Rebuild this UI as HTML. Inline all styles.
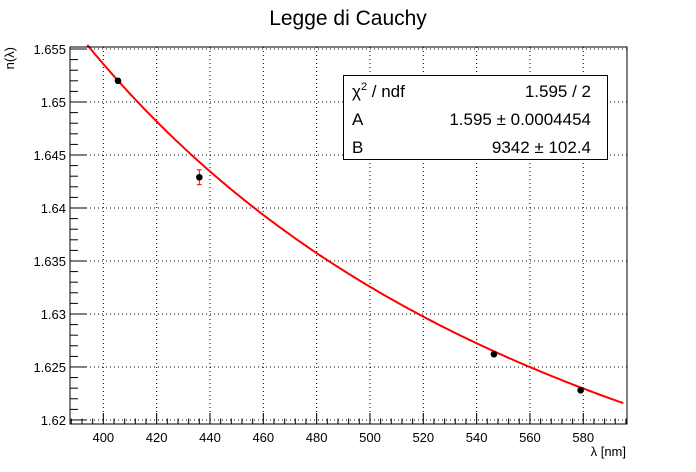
<!DOCTYPE html>
<html><head><meta charset="utf-8"><style>
body{margin:0;background:#fff;}
svg{display:block;font-family:"Liberation Sans",sans-serif;}
</style></head><body>
<svg id="chart" width="696" height="472" viewBox="0 0 696 472">
<rect width="696" height="472" fill="#fff"/>
<text x="348" y="25" font-size="21" text-anchor="middle">Legge di Cauchy</text>
<g id="grid"></g>
<g id="ticks"></g>
<g id="curve"></g>
<g id="points"></g>
<rect x="70" y="47" width="557" height="377" fill="none" stroke="#000" stroke-width="1"/>
<text x="626" y="456" font-size="13" text-anchor="end">λ [nm]</text>
<text transform="translate(14,47) rotate(-90)" font-size="13" text-anchor="end">n(λ)</text>
<g>
<rect x="343.5" y="75.5" width="264" height="84" fill="#fff" stroke="#000"/>
<text x="352" y="97" font-size="17">χ<tspan font-size="11" dy="-7">2</tspan><tspan dy="7"> / ndf</tspan></text>
<text x="591" y="97" font-size="17" text-anchor="end">1.595 / 2</text>
<text x="352" y="125" font-size="17">A</text>
<text x="591" y="125" font-size="17" text-anchor="end">1.595 ± 0.0004454</text>
<text x="352" y="153" font-size="17">B</text>
<text x="591" y="153" font-size="17" text-anchor="end">9342 ± 102.4</text>
</g>
</svg>
<script>
const lambdas=[405.5,436,546.5,579];
const nValues=[1.652,1.6429,1.6262,1.6228];
const nErrors=[0.00015,0.0007,0.0001,0.0001];
const xTicks=[400,420,440,460,480,500,520,540,560,580];
const yTicks=[1.62,1.625,1.63,1.635,1.64,1.645,1.65,1.655];
const yTickLabels=["1.62","1.625","1.63","1.635","1.64","1.645","1.65","1.655"];
const fitA=1.5952, fitB=9342;
const X0=70,X1=627,Y0=47,Y1=424,xmin=387.5,xmax=596.4,ymin=1.61962,ymax=1.65519;
const sx=v=>X0+(v-xmin)/(xmax-xmin)*(X1-X0);
const sy=v=>Y1-(v-ymin)/(ymax-ymin)*(Y1-Y0);
const NS="http://www.w3.org/2000/svg";
function mk(t,a,p){const e=document.createElementNS(NS,t);for(const k in a)e.setAttribute(k,a[k]);p.appendChild(e);return e;}
const grid=document.getElementById('grid'),ticks=document.getElementById('ticks');
xTicks.forEach(v=>{const x=sx(v);
 const g=mk('line',{x1:x,x2:x,y1:Y0,y2:Y1,stroke:'#000','stroke-dasharray':'1,3'},grid);
 
 mk('line',{x1:x,x2:x,y1:Y1,y2:Y1-11,stroke:'#000'},ticks);
 const t=mk('text',{x:x,y:Y1+18,'font-size':13,'text-anchor':'middle'},ticks);t.textContent=v;
 });
for(let v=388;v<=596;v+=4){if(v%20)mk('line',{x1:sx(v),x2:sx(v),y1:Y1,y2:Y1-5.5,stroke:'#000'},ticks);}
yTicks.forEach((v,i)=>{const y=sy(v);
 const g=mk('line',{x1:X0,x2:X1,y1:y,y2:y,stroke:'#000','stroke-dasharray':'1,3'},grid);
 
 mk('line',{x1:X0,x2:X0+16,y1:y,y2:y,stroke:'#000'},ticks);
 const t=mk('text',{x:X0-4,y:y+5,'font-size':13,'text-anchor':'end'},ticks);t.textContent=yTickLabels[i];
 });
for(let k=1620;k<=1655;k++){if(k%5)mk('line',{x1:X0,x2:X0+8,y1:sy(k/1000),y2:sy(k/1000),stroke:'#000'},ticks);}
let d='';for(let l=394;l<=595.5;l+=1){const v=fitA+fitB/(l*l);d+=(d?'L':'M')+sx(l).toFixed(1)+','+sy(v).toFixed(1);}
const c=mk('path',{d:d,fill:'none',stroke:'#f00','stroke-width':2},document.getElementById('curve'));

const pts=document.getElementById('points');
lambdas.forEach((l,i)=>{const x=sx(l),y=sy(nValues[i]),e1=sy(nValues[i]+nErrors[i]),e2=sy(nValues[i]-nErrors[i]);
 if(e2-e1>6){mk('line',{x1:x,x2:x,y1:e1,y2:e2,stroke:'#f00'},pts);
  mk('line',{x1:x-2.5,x2:x+2.5,y1:e1,y2:e1,stroke:'#f00'},pts);mk('line',{x1:x-2.5,x2:x+2.5,y1:e2,y2:e2,stroke:'#f00'},pts);}
 const p=mk('circle',{cx:x,cy:y,r:3.3,fill:'#000'},pts);
 });
</script>
</body></html>
